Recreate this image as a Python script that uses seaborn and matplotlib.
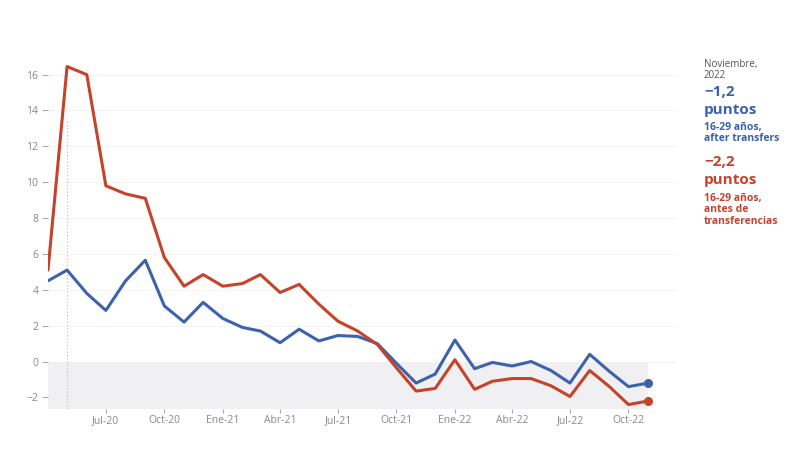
import matplotlib
matplotlib.use("Agg")
import matplotlib.pyplot as plt
import seaborn as sns
import pandas as pd
import numpy as np

months = pd.date_range("2020-04-01", "2022-11-01", freq="MS")
after_transfers = [4.5, 5.1, 3.8, 2.85, 4.5, 5.65, 3.1, 2.2, 3.3, 2.4, 1.9, 1.7,
                   1.05, 1.8, 1.15, 1.45, 1.4, 1.0, -0.1, -1.2, -0.7, 1.2, -0.4, -0.05,
                   -0.25, 0.0, -0.5, -1.2, 0.4, -0.55, -1.4, -1.2]
before_transfers = [5.1, 16.45, 16.0, 9.8, 9.35, 9.1, 5.8, 4.2, 4.85, 4.2, 4.35, 4.85,
                    3.85, 4.3, 3.2, 2.25, 1.7, 0.95, -0.35, -1.65, -1.5, 0.1, -1.55, -1.1,
                    -0.95, -0.95, -1.35, -1.95, -0.5, -1.4, -2.4, -2.2]
tick_dates = ["2020-07-01", "2020-10-01", "2021-01-01", "2021-04-01", "2021-07-01",
              "2021-10-01", "2022-01-01", "2022-04-01", "2022-07-01", "2022-10-01"]
tick_labels = ["Jul-20", "Oct-20", "Ene-21", "Abr-21", "Jul-21",
               "Oct-21", "Ene-22", "Abr-22", "Jul-22", "Oct-22"]
y_ticks = [-2, 0, 2, 4, 6, 8, 10, 12, 14, 16]

BLUE = "#3d62ac"
RED = "#c5432a"

sns.set_theme(style="white")
plt.rcParams["font.family"] = ["Open Sans", "DejaVu Sans"]

df = pd.DataFrame({"fecha": list(months) * 2,
                   "valor": after_transfers + before_transfers,
                   "serie": ["after"] * len(months) + ["antes"] * len(months)})

fig = plt.figure(figsize=(8, 4.5), dpi=100)
ax = fig.add_axes([0.06, 0.091, 0.786, 0.791])

ax.fill_between([months[0], months[-1]], -2.65, 0, color="#f0f0f2", zorder=0, lw=0)
ax.axhline(0, color="#f2f2f4", lw=0.8, zorder=0)
for yv in y_ticks[2:]:
    ax.axhline(yv, color="#f8f3f3", lw=0.8, zorder=0)
ax.axvline(months[1], ymin=0, ymax=(13.5 + 2.65) / (17.2 + 2.65),
           color="#b8b8b8", lw=0.8, ls=(0, (1, 2)), zorder=1)

sns.lineplot(data=df, x="fecha", y="valor", hue="serie",
             palette={"after": BLUE, "antes": RED}, lw=2.2, ax=ax,
             legend=False, zorder=3)
ax.scatter([months[-1]], [after_transfers[-1]], color=BLUE, s=30, zorder=4)
ax.scatter([months[-1]], [before_transfers[-1]], color=RED, s=30, zorder=4)

ax.set_xlim(months[0], pd.Timestamp("2022-12-16"))
ax.set_ylim(-2.65, 17.2)
ax.set_xticks(pd.to_datetime(tick_dates))
ax.set_xticklabels(tick_labels)
ax.set_yticks(y_ticks)
ax.set_yticklabels([("−" + str(abs(v))) if v < 0 else str(v) for v in y_ticks])
ax.tick_params(axis="both", bottom=True, left=True, colors="#aaaaaa",
               labelcolor="#888888", labelsize=7.5, length=4, width=0.8)
ax.tick_params(axis="y", pad=3)
ax.tick_params(axis="x", pad=1.5, length=3)
ax.set_xlabel("")
ax.set_ylabel("")
for s in ax.spines.values():
    s.set_visible(False)

tx = 0.88
fig.text(tx, 0.87, "Noviembre,\n2022", color="#555555", fontsize=7, va="top",
         linespacing=1.0)
fig.text(tx, 0.81, "−1,2", color=BLUE, fontsize=11, fontweight="bold", va="top")
fig.text(tx, 0.772, "puntos", color=BLUE, fontsize=11, fontweight="bold", va="top")
fig.text(tx, 0.728, "16-29 años,\nafter transfers", color=BLUE, fontsize=7.5,
         fontweight="bold", va="top", linespacing=1.0)
fig.text(tx, 0.655, "−2,2", color=RED, fontsize=11, fontweight="bold", va="top")
fig.text(tx, 0.615, "puntos", color=RED, fontsize=11, fontweight="bold", va="top")
fig.text(tx, 0.57, "16-29 años,\nantes de\ntransferencias", color=RED, fontsize=7.5,
         fontweight="bold", va="top", linespacing=1.0)

fig.savefig("out.png", dpi=100)
